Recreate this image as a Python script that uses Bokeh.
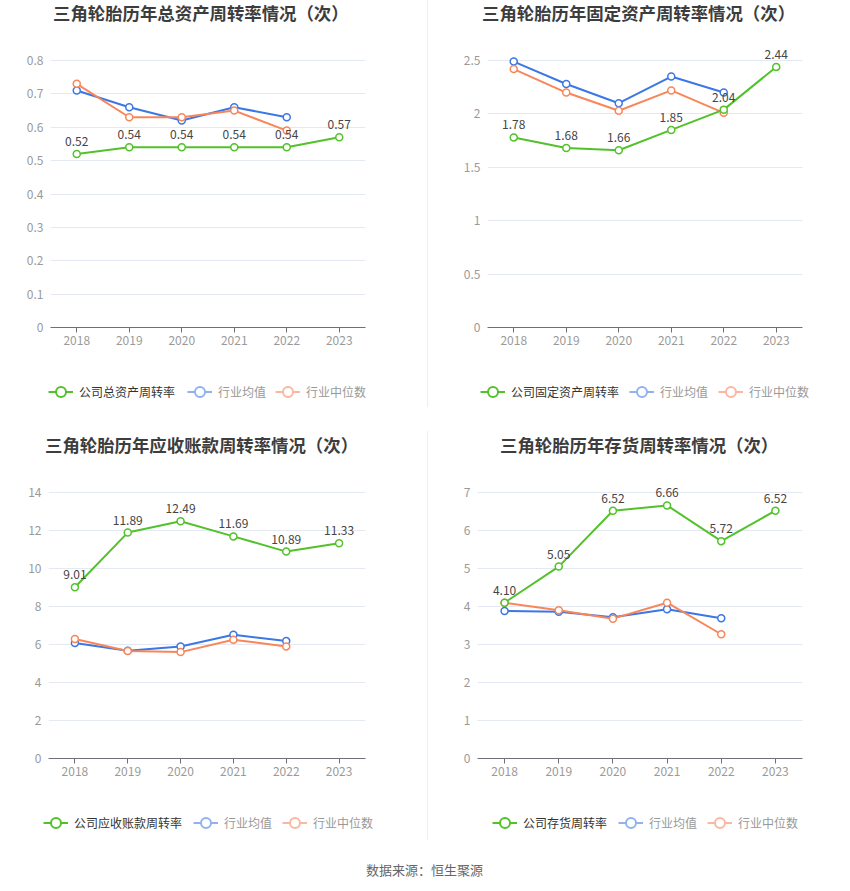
from bokeh.plotting import figure
from bokeh.models import (ColumnDataSource, FixedTicker, Legend, LegendItem, Div,
                          Range1d, FactorRange)
from bokeh.layouts import row, column
from bokeh.embed import file_html
from bokeh.resources import INLINE
from bokeh.core.properties import value

FONT = "Noto Sans CJK SC"

years = ["2018", "2019", "2020", "2021", "2022", "2023"]
peer_years = ["2018", "2019", "2020", "2021", "2022"]
series_names = ["行业均值", "行业中位数"]

# Chart 1: total asset turnover
ta_title = "三角轮胎历年总资产周转率情况（次）"
ta_name = "公司总资产周转率"
ta_company = [0.52, 0.54, 0.54, 0.54, 0.54, 0.57]
ta_avg = [0.71, 0.66, 0.62, 0.66, 0.63]
ta_median = [0.73, 0.63, 0.63, 0.65, 0.59]
ta_ticks = [0, 0.1, 0.2, 0.3, 0.4, 0.5, 0.6, 0.7, 0.8]
ta_tick_labels = ["0", "0.1", "0.2", "0.3", "0.4", "0.5", "0.6", "0.7", "0.8"]

# Chart 2: fixed asset turnover
fa_title = "三角轮胎历年固定资产周转率情况（次）"
fa_name = "公司固定资产周转率"
fa_company = [1.78, 1.68, 1.66, 1.85, 2.04, 2.44]
fa_avg = [2.49, 2.28, 2.10, 2.35, 2.20]
fa_median = [2.42, 2.20, 2.03, 2.22, 2.01]
fa_ticks = [0, 0.5, 1, 1.5, 2, 2.5]
fa_tick_labels = ["0", "0.5", "1", "1.5", "2", "2.5"]

# Chart 3: receivables turnover
ar_title = "三角轮胎历年应收账款周转率情况（次）"
ar_name = "公司应收账款周转率"
ar_company = [9.01, 11.89, 12.49, 11.69, 10.89, 11.33]
ar_avg = [6.08, 5.67, 5.90, 6.51, 6.18]
ar_median = [6.29, 5.66, 5.60, 6.25, 5.90]
ar_ticks = [0, 2, 4, 6, 8, 10, 12, 14]
ar_tick_labels = ["0", "2", "4", "6", "8", "10", "12", "14"]

# Chart 4: inventory turnover
inv_title = "三角轮胎历年存货周转率情况（次）"
inv_name = "公司存货周转率"
inv_company = [4.10, 5.05, 6.52, 6.66, 5.72, 6.52]
inv_avg = [3.88, 3.86, 3.72, 3.93, 3.69]
inv_median = [4.10, 3.90, 3.68, 4.10, 3.27]
inv_ticks = [0, 1, 2, 3, 4, 5, 6, 7]
inv_tick_labels = ["0", "1", "2", "3", "4", "5", "6", "7"]

source_text = "数据来源：恒生聚源"

GREEN = "#52c22b"
BLUE = "#3b77e6"
ORANGE = "#f98659"
GREEN_L = "#52c22b"
BLUE_L = "#90b2f1"
ORANGE_L = "#fbb7a0"

NAN = float("nan")


def make_panel(title, cname, company, avg, median, ticks, tick_labels, g):
    w = g["w"]
    # --- title (HTML) ---
    tdiv = Div(text=(f'<div style="white-space:nowrap;font-family:\'{FONT}\';font-weight:bold;'
                     f'font-size:17.4px;color:#3d3d3d;line-height:{g["tl"]}px;'
                     f'padding-left:{g["tx"]}px;">{title}</div>'),
               width=w, height=g["th"], margin=0)

    # --- chart ---
    # frame extends "pad" pixels above the top gridline so value labels are not clipped
    grid_px = g["ch"] - g["bt"] - g["bb"] - g["pad"]
    y_top = ticks[-1] + (ticks[-1] - ticks[0]) * g["pad"] / grid_px
    p = figure(width=w, height=g["ch"], x_range=FactorRange(*years, range_padding=0),
               y_range=Range1d(ticks[0], y_top),
               output_backend="svg", toolbar_location=None,
               min_border_left=g["bl"], min_border_right=g["br"],
               min_border_top=g["bt"], min_border_bottom=g["bb"])
    p.frame_align = False
    p.outline_line_color = None
    p.background_fill_color = "white"
    p.border_fill_color = "white"

    p.xgrid.grid_line_color = None
    p.ygrid.grid_line_color = "#e3e8f2"
    p.ygrid.grid_line_width = 1

    p.yaxis.ticker = FixedTicker(ticks=ticks)
    p.yaxis.major_label_overrides = {t: l for t, l in zip(ticks, tick_labels)}
    p.yaxis.axis_line_color = None
    p.yaxis.major_tick_line_color = None
    p.yaxis.major_tick_out = 0
    p.yaxis.major_tick_in = 0
    p.yaxis.minor_tick_line_color = None
    p.yaxis.major_label_text_color = "#9a9a9a"
    p.yaxis.major_label_text_font = FONT
    p.yaxis.major_label_text_font_size = "12px"
    p.yaxis.major_label_standoff = 7

    p.xaxis.axis_line_color = "#6e7079"
    p.xaxis.major_tick_line_color = "#6e7079"
    p.xaxis.major_tick_out = 5
    p.xaxis.major_tick_in = 0
    p.xaxis.minor_tick_line_color = None
    p.xaxis.major_label_text_color = "#9a9a9a"
    p.xaxis.major_label_text_font = FONT
    p.xaxis.major_label_text_font_size = "12px"
    p.xaxis.major_label_standoff = 3

    csrc = ColumnDataSource(dict(x=years, y=company, label=[f"{v:.2f}" for v in company]))
    asrc = ColumnDataSource(dict(x=peer_years, y=avg))
    msrc = ColumnDataSource(dict(x=peer_years, y=median))

    p.line("x", "y", source=asrc, color=BLUE, line_width=2)
    p.scatter("x", "y", source=asrc, size=7, marker="circle", fill_color="white",
              line_color=BLUE, line_width=1.5)
    p.line("x", "y", source=msrc, color=ORANGE, line_width=2)
    p.scatter("x", "y", source=msrc, size=7, marker="circle", fill_color="white",
              line_color=ORANGE, line_width=1.5)
    p.line("x", "y", source=csrc, color=GREEN, line_width=2)
    p.scatter("x", "y", source=csrc, size=7, marker="circle", fill_color="white",
              line_color=GREEN, line_width=1.5)
    p.text("x", "y", text="label", source=csrc, text_font=value(FONT),
           text_font_size="12px", text_color="#454545", text_align="center",
           text_baseline="bottom", y_offset=-8)

    # --- legend strip ---
    lf = figure(width=w, height=g["lh"], x_range=Range1d(0, 1), y_range=Range1d(0, 1),
                x_axis_type=None, y_axis_type=None, output_backend="svg",
                toolbar_location=None, min_border=0, min_border_left=0,
                min_border_right=0, min_border_top=0, min_border_bottom=0)
    lf.frame_align = False
    lf.outline_line_color = None
    lf.xgrid.visible = False
    lf.ygrid.visible = False
    names = [cname] + series_names
    lcolors = [GREEN_L, BLUE_L, ORANGE_L]
    tcolors = ["#333333", "#999999", "#999999"]
    for name, lc, tc, lx in zip(names, lcolors, tcolors, g["lx"]):
        es = ColumnDataSource(dict(x=[NAN], y=[NAN]))  # legend-only, nothing drawn
        r1 = lf.line("x", "y", source=es, color=lc, line_width=2)
        r2 = lf.scatter("x", "y", source=es, size=10, marker="circle", fill_color="white",
                        line_color=lc, line_width=2)
        lg = Legend(items=[LegendItem(label=name, renderers=[r1, r2])],
                    location=(lx, g["ly"]), orientation="horizontal",
                    glyph_width=25, glyph_height=25, label_height=25,
                    label_standoff=6, padding=0, margin=0, spacing=0,
                    border_line_color=None, background_fill_alpha=0,
                    label_text_font=FONT, label_text_font_size="12px",
                    label_text_color=tc)
        lf.add_layout(lg, "center")
    return column(tdiv, p, lf, spacing=0)


g1 = dict(w=427, th=30, tl=26, tx=53, ch=330, bl=50, br=62, bt=10, pad=20, bb=33, lh=60,
          ly=16, lx=[48, 187, 275])
g2 = dict(w=421, th=30, tl=26, tx=54, ch=330, bl=59, br=47, bt=10, pad=20, bb=33, lh=60,
          ly=16, lx=[52, 201, 290])
g3 = dict(w=427, th=50, tl=50, tx=45, ch=320, bl=48, br=62, bt=2, pad=20, bb=32, lh=60,
          ly=15, lx=[43, 193, 282])
g4 = dict(w=421, th=50, tl=50, tx=72, ch=320, bl=49, br=47, bt=2, pad=20, bb=32, lh=60,
          ly=15, lx=[64, 190, 279])

c1 = make_panel(ta_title, ta_name, ta_company, ta_avg, ta_median, ta_ticks, ta_tick_labels, g1)
c2 = make_panel(fa_title, fa_name, fa_company, fa_avg, fa_median, fa_ticks, fa_tick_labels, g2)
c3 = make_panel(ar_title, ar_name, ar_company, ar_avg, ar_median, ar_ticks, ar_tick_labels, g3)
c4 = make_panel(inv_title, inv_name, inv_company, inv_avg, inv_median, inv_ticks,
                inv_tick_labels, g4)

d1 = Div(width=1, height=407, margin=0, styles={"background-color": "#eeeeee"})
d2 = Div(width=1, height=409, margin=(11, 0, 0, 0), styles={"background-color": "#eeeeee"})

src = Div(text=(f'<div style="width:849px;text-align:center;font-family:\'{FONT}\';'
                f'font-size:13px;color:#666;line-height:20px;padding-top:10px;">'
                f'{source_text}</div>'),
          width=849, height=36, margin=0)

layout = column(row(c1, d1, c2, spacing=0), row(c3, d2, c4, spacing=0), src, spacing=0)

open("out.html", "w").write(file_html(layout, INLINE))
